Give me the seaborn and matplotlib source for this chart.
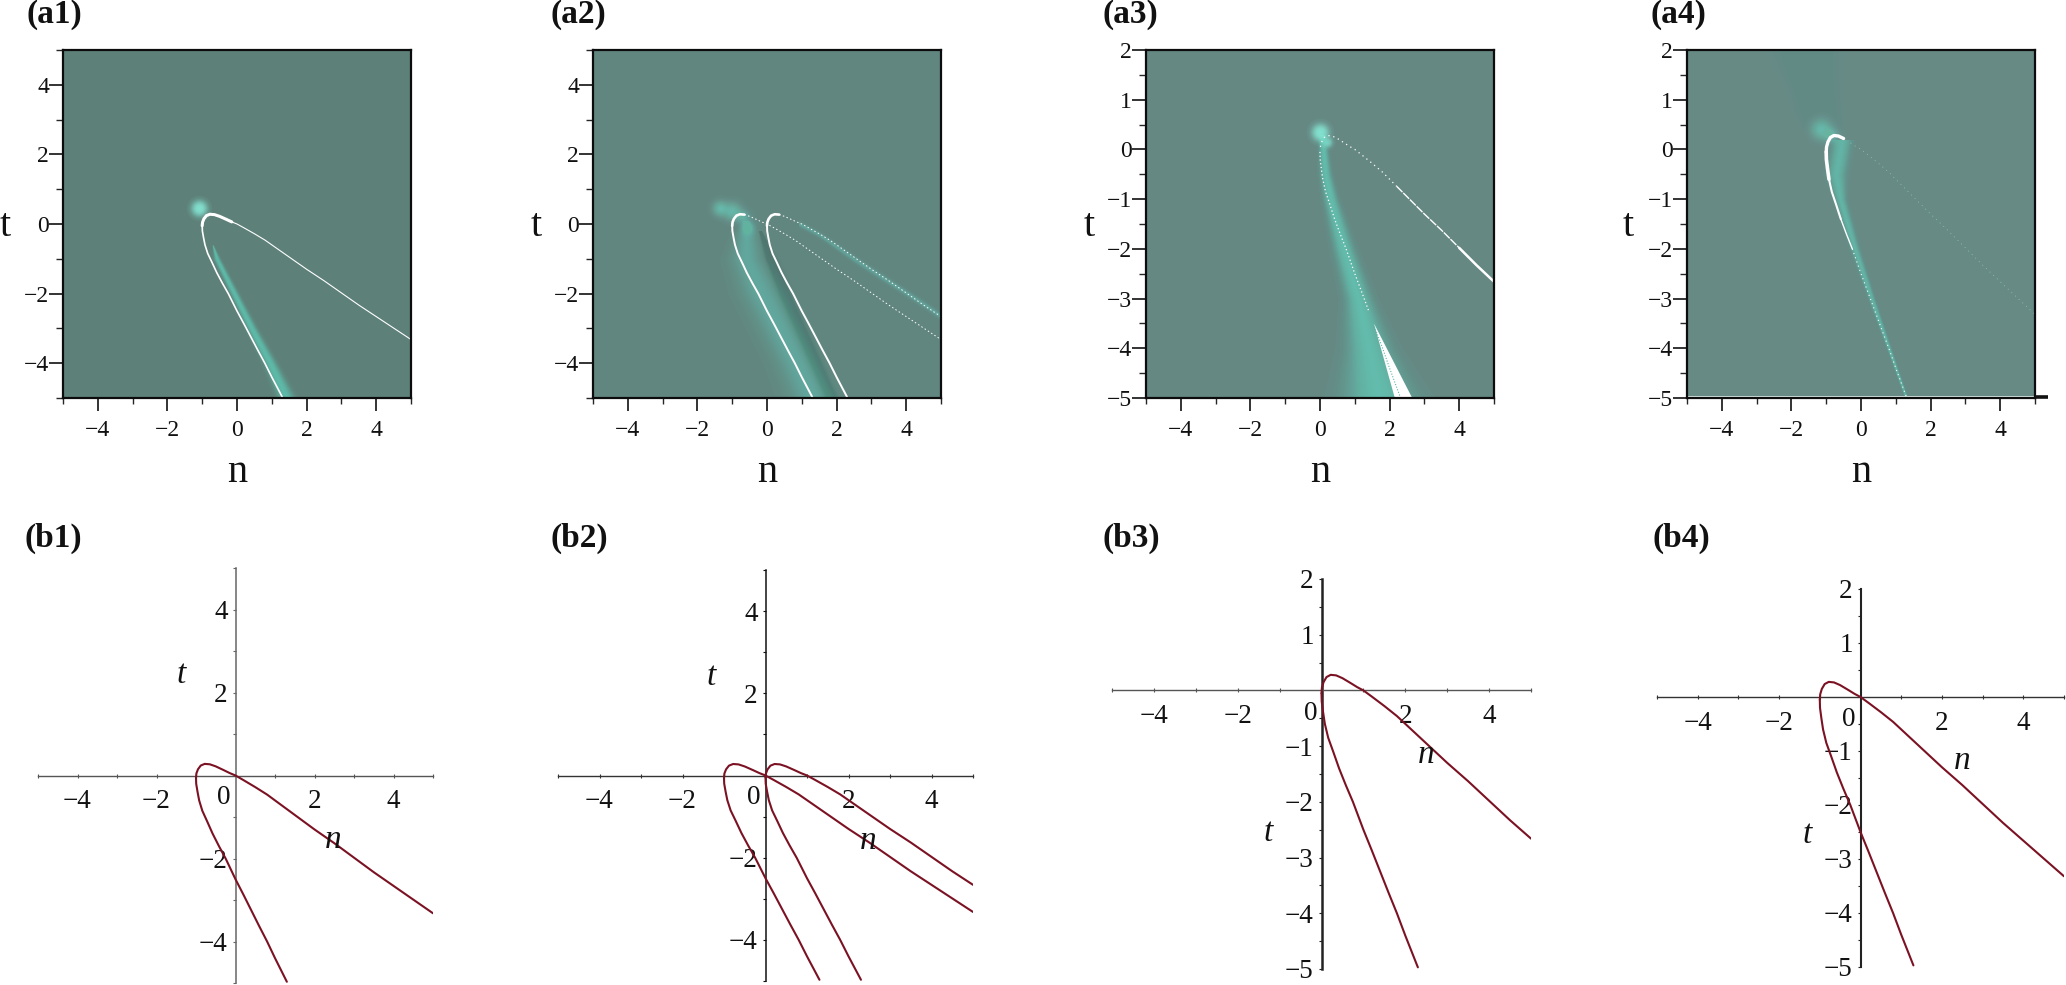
import matplotlib
matplotlib.use('Agg')
import numpy as np
import seaborn as sns
import matplotlib.pyplot as plt

sns.set_theme(style='white')
plt.rcParams['font.family'] = ['Liberation Serif', 'DejaVu Serif']

W, H = 2066, 985

# curve, left lobe (through the origin)
c1_up_n = [-1.0, -0.99, -0.95, -0.88, -0.78, -0.65, -0.5, -0.3, -0.15, 0, 0.2, 0.5, 0.8, 1.2, 1.6, 2.0, 2.5, 3.0, 3.5, 4.0, 4.5, 5.0]
c1_up_t = [-0.05, 0.05, 0.15, 0.24, 0.28, 0.27, 0.22, 0.13, 0.06, 0, -0.11, -0.28, -0.46, -0.74, -1.02, -1.3, -1.63, -1.98, -2.33, -2.66, -2.99, -3.32]
c1_lo_n = [-1.0, -0.995, -0.96, -0.92, -0.84, -0.72, -0.58, -0.42, -0.25, 0, 0.2, 0.4, 0.6, 0.8, 1.0, 1.3]
c1_lo_t = [-0.05, -0.2, -0.4, -0.6, -0.85, -1.1, -1.4, -1.7, -2.0, -2.5, -2.87, -3.25, -3.63, -4.0, -4.4, -4.97]

# second curve (a2, a3, b2, b3)
c2_up_n = [0, 0.01, 0.05, 0.12, 0.22, 0.35, 0.5, 0.7, 0.85, 1.0, 1.2, 1.5, 1.8, 2.2, 2.6, 3.0, 3.5, 4.0, 4.5, 5.0]
c2_up_t = [-0.05, 0.05, 0.15, 0.24, 0.28, 0.27, 0.22, 0.13, 0.06, 0, -0.11, -0.28, -0.46, -0.74, -1.02, -1.3, -1.63, -1.98, -2.33, -2.66]
c2_lo_n = [0, 0.005, 0.04, 0.08, 0.16, 0.28, 0.42, 0.58, 0.75, 1.0, 1.2, 1.4, 1.6, 1.8, 2.0, 2.3]
c2_lo_t = [-0.05, -0.2, -0.4, -0.6, -0.85, -1.1, -1.4, -1.7, -2.0, -2.5, -2.87, -3.25, -3.63, -4.0, -4.4, -4.97]

# glow bands: centre line and half width in n
a1_glow_t = [-0.6, -1.0, -2.0, -3.0, -4.0, -5.0]
a1_glow_n = [-0.7, -0.58, -0.08, 0.42, 0.95, 1.42]
a1_glow_w = [0.02, 0.1, 0.13, 0.16, 0.2, 0.27]
a2_glow_t = [0.1, -0.3, -1.0, -2.0, -3.0, -4.0, -5.0]
a2_glow_n = [-0.6, -0.6, -0.6, -0.15, 0.35, 0.85, 1.3]
a2_glow_w = [0.1, 0.35, 0.55, 0.7, 0.7, 0.7, 0.75]
a2_dark_t = [-0.2, -1.0, -2.0, -3.0, -4.0, -5.0]
a2_dark_n = [-0.2, 0.1, 0.5, 0.95, 1.4, 1.85]
a2_dark_w = [0.05, 0.2, 0.24, 0.24, 0.24, 0.24]
a2_side_n = [0.9, 1.5, 2.5, 3.5, 4.5, 5.0]
a2_side_t = [0.02, -0.3, -1.0, -1.65, -2.3, -2.65]
a2_side_w = [0.1, 0.1, 0.12, 0.12, 0.12, 0.12]
a3_glow_t = [0.3, -0.5, -1.0, -2.0, -3.0, -4.0, -5.0]
a3_glow_n = [0.05, 0.15, 0.3, 0.68, 1.1, 1.4, 1.7]
a3_glow_w = [0.12, 0.18, 0.22, 0.32, 0.42, 0.7, 1.15]
a4_glow_t = [0.2, -0.5, -1.0, -2.0, -3.0, -4.0, -5.0]
a4_glow_n = [-0.55, -0.72, -0.6, -0.18, 0.3, 0.8, 1.3]
a4_glow_w = [0.3, 0.3, 0.18, 0.14, 0.1, 0.07, 0.05]
a4_beam_t = [0.4, 0.8, 1.2, 1.6, 2.0]
a4_beam_n = [-1.1, -1.25, -1.35, -1.5, -1.6]
a4_beam_w = [0.45, 0.55, 0.6, 0.7, 0.8]
beam1_t = [0.5, 2.0, 3.5, 5.0]
beam1_n = [-1.1, -2.4, -3.5, -4.6]
beam1_w = [0.05, 0.2, 0.25, 0.3]
beam2_t = [0.5, 1.5, 2.3, 3.0]
beam2_n = [-1.1, -2.6, -3.9, -5.0]
beam2_w = [0.05, 0.2, 0.25, 0.3]

# bright spots (n, t, point size, strength)
a1_spot = [-1.1, 0.47, 340, 0.9]
a2_spots = [[-1.35, 0.45, 380, 0.55], [-1.0, 0.36, 520, 0.55], [-0.7, 0.2, 380, 0.4], [-0.55, -0.1, 380, 0.45]]
a3_spots = [[0.0, 0.35, 400, 0.9], [0.2, 0.15, 160, 0.75]]
a4_spots = [[-1.15, 0.42, 640, 0.6], [-0.85, 0.3, 420, 0.4]]

# white wedge at the bottom of a3
wedge_n = [1.55, 2.15, 2.65]
wedge_t = [-3.5, -5.0, -5.0]

# stub sticking out of the frame in a4
stub_n = [5.0, 5.38]
stub_t = [-4.98, -4.98]

bg_a = ['#5d8179', '#618680', '#658883', '#678a85']
glow_col = '#62e0cb'
spot_col = '#8ff2df'
curve_col = '#7b1223'
ink = '#111111'

fig = plt.figure(figsize=(W / 100, H / 100), dpi=100, facecolor='white')


def px_axes(x0, y0, x1, y1):
    return fig.add_axes([x0 / W, 1 - y1 / H, (x1 - x0) / W, (y1 - y0) / H])


def px_text(x, y, s, **kw):
    fig.text(x / W, 1 - y / H, s, ha=kw.pop('ha', 'center'), va=kw.pop('va', 'center'), color=ink, **kw)


def line(ax, n, t, color='white', lw=1.0, ls='-', zorder=3):
    sns.lineplot(x=n, y=t, ax=ax, sort=False, estimator=None, color=color, linewidth=lw,
                 linestyle=ls, legend=False, zorder=zorder)


def soft_scale(k, layers):
    # layer sizes so the stacked alpha falls off like a bell curve
    return -np.log((k + 0.5) / layers) / np.log(2 * layers)


def band(ax, n, t, w, peak, color=glow_col, layers=30, horizontal=False):
    # soft band: stacked transparent fills that get narrower towards the centre
    n, t, w = np.array(n), np.array(t), np.array(w)
    a = 1 - (1 - peak) ** (1 / layers)
    for k in range(layers):
        f = 1.4 * np.sqrt(soft_scale(k, layers))
        if horizontal:
            ax.fill_between(n, t - w * f, t + w * f, color=color, alpha=a, lw=0, zorder=2)
        else:
            ax.fill_betweenx(t, n - w * f, n + w * f, color=color, alpha=a, lw=0, zorder=2)


def spot(ax, n, t, size, peak, layers=36):
    a = 1 - (1 - peak) ** (1 / layers)
    for k in range(layers):
        sns.scatterplot(x=[n], y=[t], ax=ax, s=size * soft_scale(k, layers), color=spot_col, alpha=a,
                        linewidth=0, legend=False, zorder=2)


def tick_text(v):
    return str(v) if v >= 0 else '\u2212' + str(-v)


def style_a(ax, ylim, bg):
    ax.set_facecolor(bg)
    ax.set_xlim(-5, 5)
    ax.set_ylim(*ylim)
    xt = [-4, -2, 0, 2, 4]
    ax.set_xticks(xt, [tick_text(v) for v in xt])
    ax.set_xticks([-5, -3, -1, 1, 3, 5], minor=True)
    if ylim[1] == 5:
        yt = [-4, -2, 0, 2, 4]
        ax.set_yticks([-5, -3, -1, 1, 3, 5], minor=True)
        ax.set_yticks(yt, [tick_text(v) for v in yt])
    else:
        yt = [-5, -4, -3, -2, -1, 0, 1, 2]
        ax.set_yticks(yt, [tick_text(v) for v in yt])
        ax.set_yticks([-4.5, -3.5, -2.5, -1.5, -0.5, 0.5, 1.5], minor=True)
    ax.tick_params(axis='x', which='major', length=9.5, width=1.2, labelsize=17, pad=6, colors=ink, bottom=True)
    ax.tick_params(axis='x', which='minor', length=4.5, width=1.0, bottom=True)
    ax.tick_params(axis='y', which='major', length=10, width=1.2, labelsize=17, pad=0, colors=ink, left=True)
    ax.tick_params(axis='y', which='minor', length=5, width=1.0, left=True)
    for s in ax.spines.values():
        s.set_visible(True)
        s.set_color('#0c0c0c')
        s.set_linewidth(1.6)
        s.set_zorder(6)


def style_b(ax, ylim, left_col, left_lw, bottom_col):
    ax.patch.set_alpha(0)
    ax.set_xlim(-5, 5)
    ax.set_ylim(*ylim)
    xt = [-4, -2, 2, 4]
    ax.set_xticks(xt, [tick_text(v) for v in xt])
    ax.set_xticks([-5, -3, -1, 1, 3, 5], minor=True)
    if ylim[1] == 5:
        yt = [-4, -2, 2, 4]
        ax.set_yticks(yt, [tick_text(v) for v in yt])
        ax.set_yticks([-5, -3, -1, 1, 3, 5], minor=True)
    else:
        yt = [-5, -4, -3, -2, -1, 1, 2]
        ax.set_yticks(yt, [tick_text(v) for v in yt])
        ax.set_yticks([-4.5, -3.5, -2.5, -1.5, -0.5, 0.5, 1.5], minor=True)
    ax.tick_params(axis='x', which='both', direction='inout', length=3.5, width=0.8, labelsize=19.5, pad=8,
                   colors=bottom_col, labelcolor=ink, bottom=True)
    ax.tick_params(axis='y', which='both', length=2.5, width=0.8, labelsize=19.5, pad=3,
                   colors=left_col, labelcolor=ink, left=True)
    ax.spines['top'].set_visible(False)
    ax.spines['right'].set_visible(False)
    ax.spines['left'].set_position(('data', 0))
    ax.spines['bottom'].set_position(('data', 0))
    ax.spines['left'].set_color(left_col)
    ax.spines['left'].set_linewidth(left_lw)
    ax.spines['bottom'].set_color(bottom_col)
    ax.spines['bottom'].set_linewidth(1.0)
    ax.spines['left'].set_visible(True)
    ax.spines['bottom'].set_visible(True)


# --- top row ---
a1 = px_axes(63, 50, 411, 398)
a2 = px_axes(593, 50, 941, 398)
a3 = px_axes(1146, 50, 1494, 398)
a4 = px_axes(1687, 50, 2035, 398)

# a1
band(a1, beam1_n, beam1_t, beam1_w, 0.08)
band(a1, beam2_n, beam2_t, beam2_w, 0.06)
band(a1, a1_glow_n, a1_glow_t, a1_glow_w, 0.7)
spot(a1, *a1_spot)
line(a1, c1_up_n[:9], c1_up_t[:9], lw=2.2)
line(a1, c1_up_n[8:], c1_up_t[8:], lw=0.8)
line(a1, c1_lo_n, c1_lo_t, lw=1.2)

# a2
band(a2, a2_dark_n, a2_dark_t, a2_dark_w, 0.25, color='#4f756e')
band(a2, a2_glow_n, a2_glow_t, a2_glow_w, 0.5)
band(a2, a2_side_n, a2_side_t, a2_side_w, 0.45, horizontal=True)
for s in a2_spots:
    spot(a2, *s)
line(a2, c1_up_n[:6], c1_up_t[:6], lw=1.9)
line(a2, c1_up_n[5:], c1_up_t[5:], lw=0.7, ls=(0, (1.5, 2.5)))
line(a2, c1_lo_n, c1_lo_t, lw=1.4)
line(a2, c2_up_n[:6], c2_up_t[:6], lw=1.9)
line(a2, c2_up_n[5:], c2_up_t[5:], lw=0.7, ls=(0, (1.5, 2.5)))
line(a2, c2_lo_n, c2_lo_t, lw=1.4)

# a3
band(a3, a3_glow_n, a3_glow_t, a3_glow_w, 0.68)
for s in a3_spots:
    spot(a3, *s)
a3.fill(wedge_n, wedge_t, color='white', lw=0, zorder=3)
line(a3, c2_up_n[1:14], c2_up_t[1:14], lw=0.9, ls=(0, (1, 3)))
line(a3, c2_up_n[13:], c2_up_t[13:], lw=1.0, ls=(0, (6, 0.8)))
line(a3, c2_up_n[-3:], c2_up_t[-3:], lw=1.8)
line(a3, c2_lo_n[:12], c2_lo_t[:12], lw=0.9, ls=(0, (1, 2)))
line(a3, c2_lo_n[11:], c2_lo_t[11:], color='#5fb5a8', lw=0.8, ls=(0, (1, 1.5)), zorder=4)

# a4
band(a4, a4_beam_n, a4_beam_t, a4_beam_w, 0.25)
band(a4, a4_glow_n, a4_glow_t, a4_glow_w, 0.6)
for s in a4_spots:
    spot(a4, *s)
line(a4, c1_up_n[:7], c1_up_t[:7], lw=2.4)
line(a4, c1_lo_n[:4], c1_lo_t[:4], lw=2.6)
line(a4, c1_lo_n[3:7], c1_lo_t[3:7], lw=1.5)
line(a4, c1_lo_n[6:9], c1_lo_t[6:9], lw=1.0)
line(a4, c1_lo_n[8:], c1_lo_t[8:], lw=0.8, ls=(0, (1, 3)))
line(a4, c1_up_n[7:], c1_up_t[7:], color='#8fc9bf', lw=0.6, ls=(0, (1, 5)))
a4.axhline(-4.95, color='#dfeeeb', lw=0.7, zorder=5)
a4.plot(stub_n, stub_t, color='#111111', lw=2.6, clip_on=False, zorder=7, solid_capstyle='butt')

style_a(a1, (-5, 5), bg_a[0])
style_a(a2, (-5, 5), bg_a[1])
style_a(a3, (-5, 2), bg_a[2])
style_a(a4, (-5, 2), bg_a[3])

# --- bottom row ---
b1 = px_axes(38, 568, 433, 983)
b2 = px_axes(558, 570, 973, 981)
b3 = px_axes(1112, 579, 1531, 969)
b4 = px_axes(1657, 589, 2064, 967)

line(b1, c1_up_n, c1_up_t, color=curve_col, lw=1.5)
line(b1, c1_lo_n, c1_lo_t, color=curve_col, lw=1.5)
line(b2, c1_up_n, c1_up_t, color=curve_col, lw=1.5)
line(b2, c1_lo_n, c1_lo_t, color=curve_col, lw=1.5)
line(b2, c2_up_n, c2_up_t, color=curve_col, lw=1.5)
line(b2, c2_lo_n, c2_lo_t, color=curve_col, lw=1.5)
line(b3, c2_up_n, c2_up_t, color=curve_col, lw=1.5)
line(b3, c2_lo_n, c2_lo_t, color=curve_col, lw=1.5)
line(b4, c1_up_n, c1_up_t, color=curve_col, lw=1.5)
line(b4, c1_lo_n, c1_lo_t, color=curve_col, lw=1.5)

style_b(b1, (-5, 5), '#666666', 1.1, '#555555')
style_b(b2, (-5, 5), '#111111', 1.1, '#333333')
style_b(b3, (-5, 2), '#222222', 1.8, '#555555')
style_b(b4, (-5, 2), '#222222', 1.5, '#333333')

# --- panel letters and axis names ---
letters = ['(a1)', '(a2)', '(a3)', '(a4)', '(b1)', '(b2)', '(b3)', '(b4)']
letter_x = [27, 551, 1102, 1650, 25, 551, 1103, 1653]
letter_y = [15, 15, 15, 15, 538, 538, 538, 538]
for s, x, y in zip(letters, letter_x, letter_y):
    px_text(x, y, s, ha='left', fontsize=24, fontweight='bold')

for x in [237, 767, 1320, 1861]:
    px_text(x, 472, 'n', fontsize=29)
for x in [5, 536, 1089, 1628]:
    px_text(x, 226, 't', fontsize=29)

b_n_xy = [(333, 840), (868, 841), (1426, 755), (1962, 761)]
b_t_xy = [(181, 675), (711, 677), (1268, 833), (1807, 835)]
b_zero_xy = [(224, 798), (754, 798), (1311, 713), (1849, 720)]
for (x, y) in b_n_xy:
    px_text(x, y, 'n', fontsize=24, fontstyle='italic')
for (x, y) in b_t_xy:
    px_text(x, y, 't', fontsize=24, fontstyle='italic')
for (x, y) in b_zero_xy:
    px_text(x, y, '0', fontsize=19.5)

fig.savefig('out.png', dpi=100)
